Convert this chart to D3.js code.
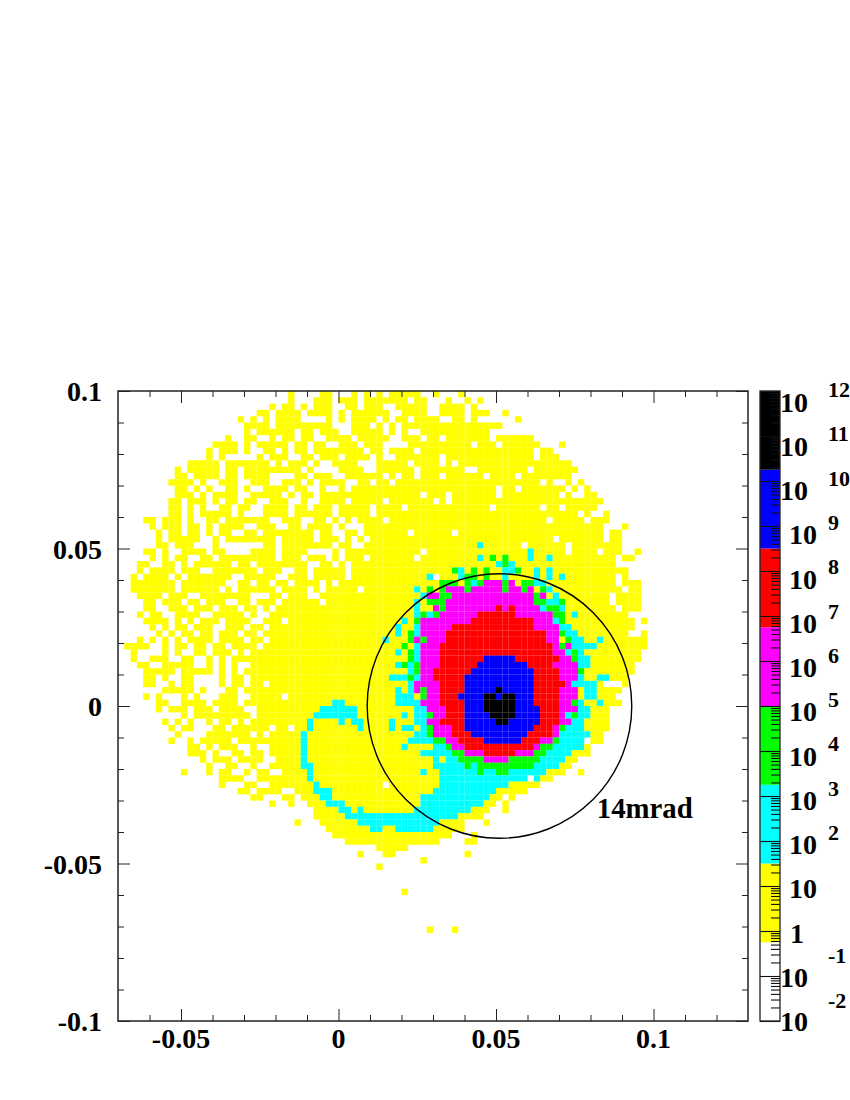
<!DOCTYPE html>
<html><head><meta charset="utf-8">
<script src="https://cdn.jsdelivr.net/npm/d3@7"></script>
<style>html,body{margin:0;padding:0;background:#fff}svg{display:block}
text{font-family:"Liberation Serif",serif;font-weight:bold;fill:#000}</style></head>
<body><svg id="c" width="850" height="1100"></svg>
<script>
// 2-D histogram, 100 x 100 bins. Each row (top to bottom) lists bin ranges by colour band;
// plain range = yellow band, w = empty, c/g/m/r/b/k = higher bands. Later tokens overwrite.
const rows = [
"27 32-33 37 39 41 43-47 50 54",
"27 31-33 35-37 39-45 47-48 52 55 57",
"24 26-27 29 31-33 36-37 39-41 44-48 51-54 56",
"22-23 25-28 30-33 35 37-42 45-48 51-54 56-58 61",
"19 21 23 25-28 33 35 37-40 42 44-45 47-50 53-54 56 63",
"20-23 25-33 37-39 41 43-60 w44",
"20 22-24 25-27 29-30 32-34 37-41 43 45 48-58 w59",
"17 20-21 24 26-36 w28 w31-32 38-65 w43-44 w48 w51 w59",
"15-18 20 22-26 28-29 31-66 w33-34 w38 w42-45 w56 w60 70",
"14 16-18 20-68 w21-22 w25 w27 w30 w39 w42 w47 w66",
"14 16 22 24-69 w17-21 w27-28 w31 w35 w40 w42-43 w51 w66",
"11-15 17-23 25-71 w26 w30 w32-33 w38-40 w46 w51 w53",
"9 11-15 17-72 w19 w29 w31-34 w39-40 w47 w55-56 w65",
"9-10 12-15 17-18 20-71 w24-27 w30 w34-35 w42 w44 w47 w51 w58 w63",
"8-11 13 16-73 w19-20 w24-25 w29 w31 w36-37 w40 w43 w67 w69-70 w72",
"9-10 12 14-74 w15-16 w19 w21-22 w27 w30-31 w33-34 w36 w60 w63 w71 w73",
"9-11 13 15-75 w19-20 w26 w28 w31 w48 w52 w60 w70 w72-73",
"8-9 11-13 15-76 w16 w19 w22-23 w27-28 w30-31 w36 w42 w50 w52",
"8-9 11 13-75 w14-15 w18 w21-22 w27 w30 w34 w40 w45 w59 w67 w70",
"8-9 11 13-77 w12 w18 w20-22 w27 w34 w40 w73 w75-76",
"4-5 7-9 11-77 w12-13 w16 w24-25 w29-30 w33 w35 w37 w42 w68 w74",
"5 7-9 11-80 w13 w15 w20-21 w25-26 w29 w34 w36-38 w77-79",
"6 8-9 11-79 w13 w15 w18-19 w22 w31 w34-35 w38 w46 w53 w77",
"6 8-12 15-79 w16 w25 w31 w35 w37 w39 w69 w77",
"6-7 9-79 w12-14 w16-22 w25 w34 w37-38 w64 w71 c57",
"4-5 7 10-79 w14 w17-20 w25 w30-33 w35 w48 w71 w76 82 c65",
"5 7 9-78 w11-12 w15 w25 w29 w33 w35 w39 w47 80-81 c57 g59 g61 c65 c68",
"3-4 7-8 10-78 w11 w18 w21 w30-31 w34 w36 c60 g61 c62",
"3 5-8 10-80 w13-14 w22 w26-27 w30 w36 g53 c54 g56 g58 c61-62 g63 c66 c68",
"2 4-7 9-80 w10 w18-19 w25-26 w30 w36 w79 c49 w50 c54 g55-56 g58 c61 c66 c68 c70",
"2-8 10-82 w17-18 w21 w24 w27 w32 w34 w79 g51-53 g55 c56 g57 m58-60 g61 m62 g64-65 c66-67",
"2-8 10-82 w16 w18 w25 w30 w32 w38 w80 c47 g49 g51 m52-54 g55 m56-60 g61 m62-63 g64 m65 g67 c68",
"3-6 8-82 w11-12 w21-23 w26 w30-31 w78 c48 m49-50 g51-52 m53-65 g66 m67 c69",
"4-5 7-82 w10 w13 w17-18 w21 w25 w32 w78 c47 g49-51 m52-65 g66-67 c68-69 g70",
"4-5 8-82 w11 w15 w19 w22 w24 w79 c47 m50 g51 m52-59 r60 m61 r62 m63-66 c67 g68-69 c70",
"3 5-80 w4 w7-8 w13-14 w20 w22-23 c47 g48 c49 g50 m51-56 r57-62 m63-68 g69-70 c72",
"4-7 9-83 w10 w12 w16 w21-22 w26 c45 g47 m48-55 r56-65 m66-68 c69 g70 w82",
"5 7-81 w8 w11 w15-16 w20 w23 c44 c47 m48-52 r53-65 m66-69 c70-71",
"6 8-83 w9 w12 w15 w19 w22 w81-82 c44 g46 c47 m48-51 r52-67 m68-69 g70 c71-72",
"3 5 7-83 w8 w10 w15 w20 w23 c42 g46 m47 g48 m49-51 r52-67 m68-69 g71 c72-73 c76",
"1-4 7-83 w8 w11 w14 w17 w22 g45 c47 m48-50 r51-68 m69 g70 m71 c72-75",
"2 7-82 w8 w10-11 w14 w18 w20 c44 g46 c47 m48-50 r51-68 m69-70 c71 g72 c73",
"2 5-7 10-82 w12-13 w15 w17 g46 c47 m48-50 r51-57 b58-62 r63-69 m70-71 g72 c73-74",
"3-4 7-81 w12-13 w15 w17 w19-20 c44 g45 c46 g47 m48-50 r51-56 b57-64 r65-68 m69-72 c73-74",
"4-8 10-81 w15 w17 w19 c46 g47 m48-49 r50-55 b56-65 r66-69 m70-72 g73",
"4-5 7 10-80 w12-14 w15 w17 w20 c43-45 g46 c47 m48-49 r50-54 b55-65 r66-69 m70-72 c73 c76-77",
"4-5 8 10-80 w12-15 w17 w20 w23 c46 m47-50 r51-54 b55-65 r66-69 r70 m71 c72-75 c77 w77-79",
"7-11 13-79 w12 w14-16 w19 c44 c46 m47 g48 m49-50 r51-54 b55-59 k60 b61-65 r66-69 m70-72 c74-75",
"4 6 10-78 w11 w13-15 w19-20 w26 g48 c44-46 m49-50 r51-53 b54-57 k58-59 b60 k61-62 b63-65 r66-69 m70-72 c74-75",
"6-7 10-79 w9 w14 w19 c34-35 c44-47 m48-50 r51-54 b55-57 k58-62 b63-65 r66-69 m70-71 g72 c73 c76",
"6 8-10 12-77 w15 w20-21 c32-37 c47-48 m49-51 r52-54 b55-57 k58-62 b63-66 r67-69 m70-72 c73-74",
"10 12-77 w21 c31-37 c45 c47-48 g49 m50-51 r52-54 b55-58 k59-62 b63-66 r67-69 m70 c71 g72 c73-74",
"7 9 11 14-77 w15 w18 w20 c30 c35 c37-38 c43 c47-48 m49-50 r51-54 b55-59 k60-61 b62-66 r67-69 m70-71 c72-73",
"8 10-11 15-77 w17 w24 w27 c30 c38 c43 c45-46 c48 g49 m50-52 r53-54 b55-65 r66-68 m69 g70 c71-73",
"9-76 w10-13 w21 w23 c29 c47-48 g49 m50-52 r53-55 b56-64 r65-68 m69 c70-74",
"8 11-76 w12 w18 c29 c46-49 g50-51 m52-53 r54-57 b58-63 r64-66 m67-68 g69 c70-73 w74",
"11-12 14-74 w15 w19-20 w22-23 c29 c45 c50-51 g52 m53-54 r55-65 m66 g67-68 c69-73",
"11-13 15-74 w16-17 w20 w23 c29 c48-52 g53-54 m55-57 r58-62 m63-65 g66-67 c68-71",
"13 15-72 w14 w18 w23-24 c29 c50 c52-53 g54-57 m58-61 g62-66 c67-70",
"14 17-71 w19-20 w22-23 c29-30 c50-54 g55 c56 g57-65 c66-69",
"10 14 16-70 w18-19 w21 w24-25 c30 c48 c51-56 g57 c58-59 g60-61 c62-67 w71-72 73",
"16-68 w20-21 c30 c51-64 w65 c66",
"16 20-66 w22 w23 c31 w42 c51-61",
"19-20 22-64 w26-27 c31-33 c50-59",
"21-22 26-27 29-60 c32-33 c48-58 62 w61",
"24 27 30-59 c33-35 c48-57 61",
"31-58 c35-36 c38 c47-55 61",
"31-57 c36-53",
"28 32-54 c38-50 58",
"33-54 c40-41 c44-49",
"34-52 56",
"36-50 55-56",
"41-45",
"38 42-43 55",
"48",
"41",
"",
"",
"",
"45",
"",
"",
"",
"",
"",
"49 53"
];
const bandLetters = ["y","c","g","m","r","b","k"];
const bandValues  = [3,200,1e4,7e5,4e7,2e9,1e11];
const bandColors  = ["#ffffff","#ffff00","#00ffff","#00ff00","#ff00ff","#ff0000","#0000ff","#000000"];
const bandEdges   = [1e-2,10**-0.25,10**1.5,10**3.25,1e5,10**6.75,10**8.5,10**10.25,1e12];
const xDomain = [-0.07,0.13], yDomain = [-0.1,0.1], binCount = 100;
const xMajor = [-0.05,0,0.05,0.1], xMinor = [-0.06,-0.04,-0.03,-0.02,-0.01,0.01,0.02,0.03,0.04,0.06,0.07,0.08,0.09,0.11,0.12];
const yMajor = [-0.1,-0.05,0,0.05,0.1], yMinor = [-0.09,-0.08,-0.07,-0.06,-0.04,-0.03,-0.02,-0.01,0.01,0.02,0.03,0.04,0.06,0.07,0.08,0.09];
const barExponents = [12,11,10,9,8,7,6,5,4,3,2,1,0,-1,-2];
const circleCentre = [0.0511,0], circleRadius = 0.042;
const note = {text:"14mrad",x:0.082,y:-0.0355};

const svg = d3.select("#c");
const x = d3.scaleLinear(xDomain,[118,748]);
const y = d3.scaleLinear(yDomain,[1021,391]);
const z = d3.scaleLog([1e-2,1e12],[1021,391]);
const colour = d3.scaleThreshold(bandEdges.slice(1,-1),bandColors);
const xBin = (xDomain[1]-xDomain[0])/binCount, yBin = (yDomain[1]-yDomain[0])/binCount;

// decode rows
const cells=[];
rows.forEach((row,j)=>{
  const vals=new Map();
  row.split(/\s+/).filter(Boolean).forEach(t=>{
    const m=t.match(/^([a-z]?)(\d+)(?:-(\d+))?$/);
    const a=+m[2],b=m[3]?+m[3]:a;
    for(let i=a;i<=b;i++){
      if(m[1]==="w") vals.delete(i);
      else vals.set(i,bandValues[bandLetters.indexOf(m[1]||"y")]);
    }
  });
  vals.forEach((v,i)=>cells.push({i,j,v}));
});
svg.append("g").selectAll("rect").data(cells).join("rect")
  .attr("x",d=>x(xDomain[0]+d.i*xBin))
  .attr("y",d=>y(yDomain[1]-d.j*yBin))
  .attr("width",x(xBin)-x(0)+0.1)
  .attr("height",y(0)-y(yBin)+0.1)
  .attr("fill",d=>colour(d.v));

// circle and note
svg.append("circle").attr("cx",x(circleCentre[0])).attr("cy",y(circleCentre[1]))
  .attr("r",x(circleRadius)-x(0)).attr("fill","none").attr("stroke","#000").attr("stroke-width",1.4);
svg.append("text").attr("x",x(note.x)).attr("y",y(note.y)).attr("font-size",28.8).text(note.text);

// frame + ticks through d3 axes
const frameCol="#222";
function style(g){g.select(".domain").remove();g.selectAll("line").attr("stroke",frameCol).attr("stroke-width",1);g.selectAll("text").remove();}
const fmt=d=>String(+d.toFixed(3));
[[d3.axisBottom,1021],[d3.axisTop,391]].forEach(([ax,py])=>{
  svg.append("g").attr("transform",`translate(0,${py})`).call(ax(x).tickValues(xMinor).tickSize(-6)).call(style);
  svg.append("g").attr("transform",`translate(0,${py})`).call(ax(x).tickValues(xMajor).tickSize(-12)).call(style);
});
[[d3.axisLeft,118],[d3.axisRight,748]].forEach(([ax,px])=>{
  svg.append("g").attr("transform",`translate(${px},0)`).call(ax(y).tickValues(yMinor).tickSize(-6)).call(style);
  svg.append("g").attr("transform",`translate(${px},0)`).call(ax(y).tickValues(yMajor).tickSize(-12)).call(style);
});
svg.append("rect").attr("x",118).attr("y",391).attr("width",630).attr("height",630)
  .attr("fill","none").attr("stroke",frameCol).attr("stroke-width",1.5);

svg.append("g").selectAll("text").data(xMajor).join("text")
  .attr("x",d=>x(d)).attr("y",1048).attr("text-anchor","middle").attr("font-size",28).text(fmt);
svg.append("g").selectAll("text").data(yMajor).join("text")
  .attr("x",102).attr("y",d=>y(d)+10).attr("text-anchor","end").attr("font-size",28).text(fmt);

// colour bar
const bx0=760,bx1=780;
svg.append("g").selectAll("rect").data(bandColors).join("rect")
  .attr("x",bx0).attr("width",bx1-bx0)
  .attr("y",(d,i)=>z(bandEdges[i+1])).attr("height",(d,i)=>z(bandEdges[i])-z(bandEdges[i+1]))
  .attr("fill",d=>d);
const decades=barExponents.map(e=>10**e);
const minor=[];
barExponents.slice(1).forEach(e=>[2,3,4,5,6,7,8,9].forEach(m=>minor.push(m*10**e)));
const tickStyle=g=>{g.select(".domain").remove();g.selectAll("text").remove();g.selectAll("line").attr("stroke","#111").attr("stroke-width",1.1);};
svg.append("g").attr("transform",`translate(${bx1},0)`).call(d3.axisRight(z).tickValues(minor).tickSize(-9)).call(tickStyle);
svg.append("g").attr("transform",`translate(${bx1},0)`).call(d3.axisRight(z).tickValues(decades).tickSize(-20)).call(tickStyle);
svg.append("rect").attr("x",bx0).attr("y",391).attr("width",bx1-bx0).attr("height",630).attr("fill","none").attr("stroke",frameCol).attr("stroke-width",1.3);

const wide=e=>e>=10||e<0;
svg.append("g").selectAll("text").data(barExponents).join("text")
  .attr("x",e=>e===0?790:(wide(e)?780:789)).attr("y",e=>z(10**e)+10+(e+2)*0.75).attr("font-size",28)
  .text(e=>e===0?"1":"10");
svg.append("g").selectAll("text").data(barExponents.filter(e=>e!==0&&e!==1)).join("text")
  .attr("x",828).attr("y",e=>z(10**e)+(e<0?-13:(e-2)*0.7-1)).attr("font-size",22)
  .text(e=>e);
</script></body></html>
